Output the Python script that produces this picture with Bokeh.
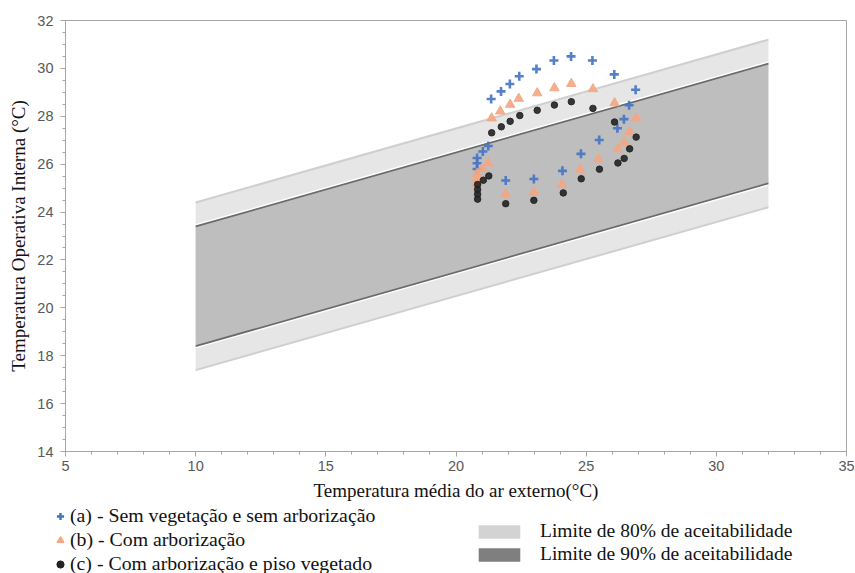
from bokeh.plotting import figure
from bokeh.models import Legend, LegendItem, SingleIntervalTicker, Range1d
from bokeh.layouts import column
from bokeh.embed import file_html
from bokeh.resources import INLINE

# ---- data ----
band_x = [10, 32]
upper80 = [24.4, 31.2]
lower80 = [17.4, 24.2]
upper90 = [23.4, 30.2]
lower90 = [18.4, 25.2]

# (a) Sem vegetação e sem arborização
xa = [20.81, 20.81, 20.81, 21.03, 21.24, 21.35, 21.73, 22.07, 22.43, 23.09, 23.76, 24.42,
      25.24, 26.08, 26.9, 26.65, 26.45, 26.2, 25.5, 24.8, 24.09, 22.99, 21.91]
ya = [25.8, 26.04, 26.26, 26.53, 26.76, 28.72, 29.04, 29.35, 29.67, 29.97, 30.33, 30.5,
      30.33, 29.75, 29.11, 28.46, 27.88, 27.5, 27.01, 26.43, 25.72, 25.38, 25.32]

# (b) Com arborização
xb = [20.81, 20.81, 20.81, 21.0, 21.24, 21.37, 21.7, 22.08, 22.41, 23.12, 23.78, 24.43,
      25.26, 26.09, 26.92, 26.67, 26.46, 26.22, 25.47, 24.77, 24.07, 22.99, 21.91]
yb = [25.18, 25.39, 25.6, 25.82, 26.04, 27.92, 28.21, 28.49, 28.74, 28.97, 29.18, 29.36,
      29.14, 28.55, 27.92, 27.35, 26.92, 26.63, 26.22, 25.78, 25.15, 24.83, 24.75]

# (c) Com arborização e piso vegetado
xc = [20.83, 20.83, 20.83, 20.83, 21.05, 21.26, 21.37, 21.74, 22.08, 22.45, 23.12, 23.78,
      24.43, 25.26, 26.09, 26.92, 26.67, 26.46, 26.22, 25.51, 24.81, 24.12, 22.99, 21.91]
yc = [24.54, 24.74, 24.94, 25.15, 25.33, 25.51, 27.31, 27.56, 27.79, 28.03, 28.25, 28.47,
      28.61, 28.33, 27.76, 27.13, 26.64, 26.24, 26.05, 25.79, 25.39, 24.8, 24.49, 24.35]

labels_series = ["(a) - Sem vegetação e sem arborização",
                 "(b) - Com arborização",
                 "(c) - Com arborização e piso vegetado"]
labels_bands = ["Limite de 80% de aceitabilidade", "Limite de 90% de aceitabilidade"]

x_title = "Temperatura média do ar externo(°C)"
y_title = "Temperatura Operativa Interna (°C)"

BLUE = "#4472C4"
SALMON = "#F4A582"
BLACK = "#222222"
SERIF = "Liberation Serif"

# ---- main figure ----
p = figure(frame_width=781, frame_height=431, output_backend="svg", toolbar_location=None,
           x_range=Range1d(5, 35), y_range=Range1d(14, 32),
           min_border_left=65, min_border_right=9, min_border_top=20, min_border_bottom=54)
p.frame_align = False
p.xgrid.visible = False
p.ygrid.visible = False
p.outline_line_color = "#a6a6a6"

p.xaxis.ticker = SingleIntervalTicker(interval=5, num_minor_ticks=5)
p.yaxis.ticker = SingleIntervalTicker(interval=2, num_minor_ticks=4)
for ax in (p.xaxis, p.yaxis):
    ax.axis_line_color = "#a6a6a6"
    ax.major_tick_line_color = "#a6a6a6"
    ax.minor_tick_line_color = "#a6a6a6"
    ax.major_tick_in = 0
    ax.major_tick_out = 5
    ax.minor_tick_in = 0
    ax.minor_tick_out = 3
    ax.major_label_text_font = "Liberation Sans"
    ax.major_label_text_font_size = "14.5px"
    ax.major_label_text_color = "#595959"
    ax.axis_label_text_font = SERIF
    ax.axis_label_text_font_style = "normal"
    ax.axis_label_text_font_size = "19px"
    ax.axis_label_text_color = "#111111"
p.xaxis.axis_label = x_title
p.yaxis.axis_label = y_title
p.xaxis.major_label_standoff = 4
p.xaxis.axis_label_standoff = 6
p.yaxis.major_label_standoff = 7
p.yaxis.axis_label_standoff = 5

# bands: light 80% band, white halo on the outside of the 90% limits, dark 90% band
p.varea(x=band_x, y1=lower80, y2=upper80, fill_color="#e6e6e6")
p.line(band_x, upper80, line_color="#cfcfcf", line_width=2)
p.line(band_x, lower80, line_color="#cfcfcf", line_width=2)
p.line(band_x, upper90, line_color="#ffffff", line_width=4.5)
p.line(band_x, lower90, line_color="#ffffff", line_width=4.5)
p.varea(x=band_x, y1=lower90, y2=upper90, fill_color="#bebebe")
p.line(band_x, upper90, line_color="#6a6a6a", line_width=1.7)
p.line(band_x, lower90, line_color="#6a6a6a", line_width=1.7)

# series
p.scatter(xa, ya, marker="cross", size=9, line_color=BLUE, line_width=2.6, line_alpha=0.9)
p.scatter(xb, yb, marker="triangle", size=9.5, fill_color=SALMON, line_color=SALMON,
          fill_alpha=0.9, line_alpha=0.9)
p.scatter(xc, yc, marker="circle", size=6.5, fill_color=BLACK, line_color=BLACK,
          fill_alpha=0.9, line_alpha=0.9)

# ---- legend strip (its renderers draw the same data, outside this strip's view) ----
q = figure(width=855, height=68, output_backend="svg", toolbar_location=None,
           x_range=Range1d(0, 1), y_range=Range1d(0, 1),
           x_axis_type=None, y_axis_type=None,
           min_border_left=0, min_border_right=0, min_border_top=0, min_border_bottom=0)
q.frame_align = False
q.xgrid.visible = False
q.ygrid.visible = False
q.outline_line_color = None

la = q.scatter(xa, ya, marker="cross", size=8, line_color=BLUE, line_width=2.4)
lb = q.scatter(xb, yb, marker="triangle", size=10, fill_color=SALMON, line_color=SALMON)
lc = q.scatter(xc, yc, marker="circle", size=6.5, fill_color=BLACK, line_color=BLACK)
s80 = q.varea(x=band_x, y1=lower80, y2=upper80, fill_color="#d3d3d3")
s90 = q.varea(x=band_x, y1=lower90, y2=upper90, fill_color="#7f7f7f")

leg1 = Legend(items=[LegendItem(label=labels_series[0], renderers=[la]),
                     LegendItem(label=labels_series[1], renderers=[lb]),
                     LegendItem(label=labels_series[2], renderers=[lc])],
              location=(51, -2), orientation="vertical",
              glyph_width=18, glyph_height=22, label_height=22, spacing=1,
              label_standoff=1, padding=0, margin=0,
              border_line_color=None, background_fill_alpha=0,
              label_text_font=SERIF, label_text_font_size="19.8px",
              label_text_color="#111111")
leg2 = Legend(items=[LegendItem(label=labels_bands[0], renderers=[s80]),
                     LegendItem(label=labels_bands[1], renderers=[s90])],
              location=(473, 8), orientation="vertical",
              glyph_width=52, glyph_height=17, label_height=17, spacing=1,
              label_standoff=15, padding=0, margin=0,
              border_line_color=None, background_fill_alpha=0,
              label_text_font=SERIF, label_text_font_size="19.5px",
              label_text_color="#111111")
q.add_layout(leg1, "center")
q.add_layout(leg2, "center")

layout = column(p, q, spacing=0)
open("out.html", "w").write(file_html(layout, INLINE))
